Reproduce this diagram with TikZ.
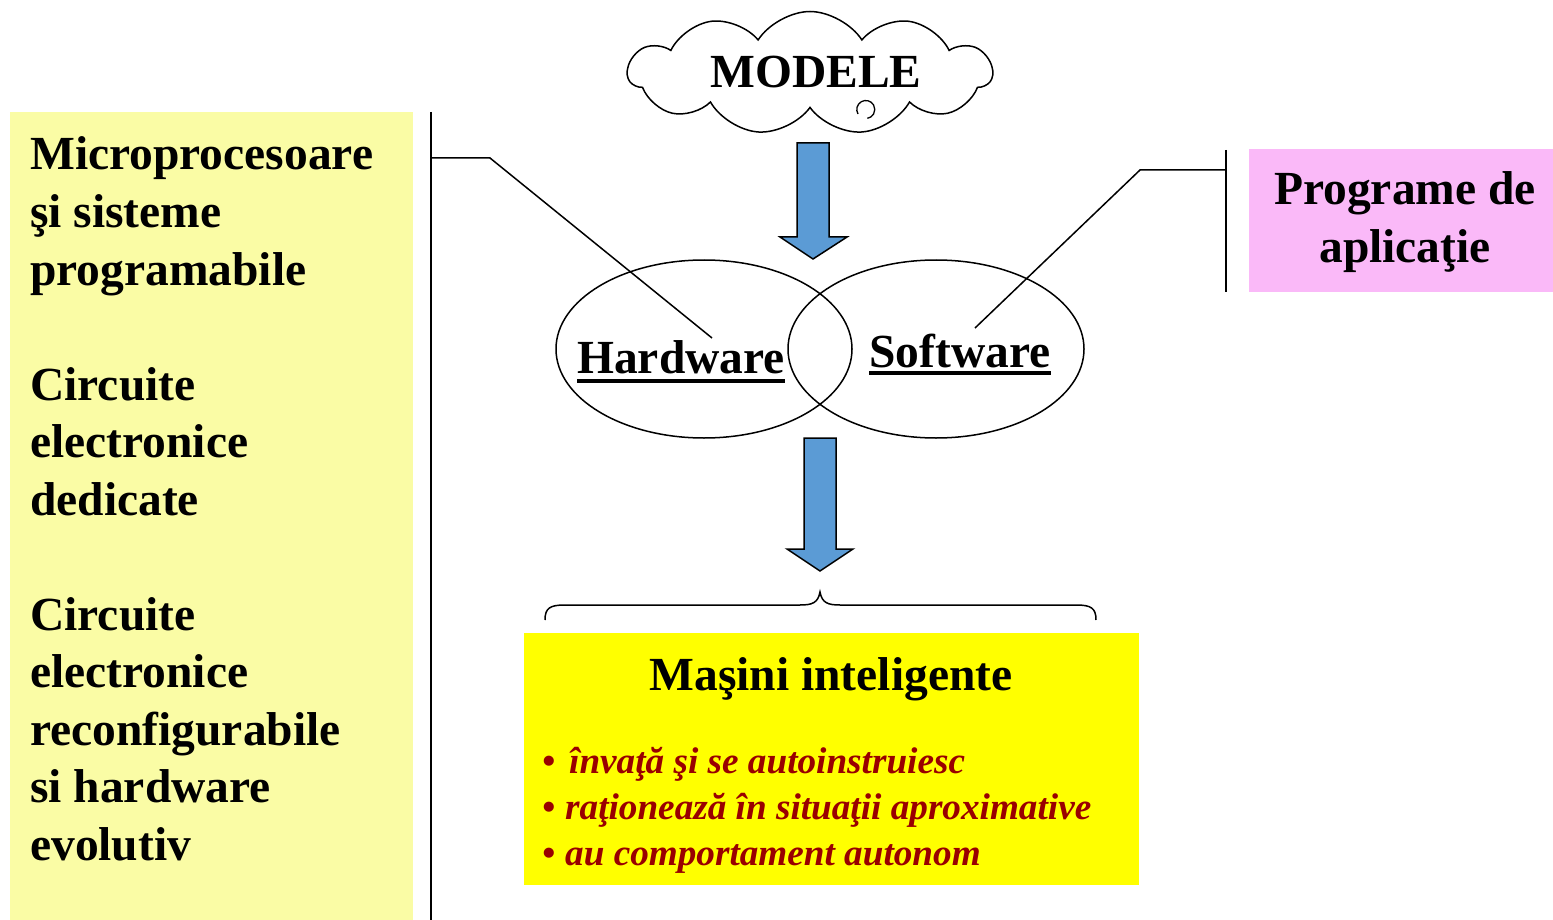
\documentclass[tikz,border=0pt]{standalone}
\usepackage{fontspec}
\setmainfont{Liberation Serif}
\usetikzlibrary{shapes.symbols,shapes.geometric}
\definecolor{paleyellow}{RGB}{250,252,165}
\definecolor{pinkbox}{RGB}{250,185,248}
\definecolor{arrowblue}{RGB}{91,155,213}
\definecolor{darkred}{RGB}{153,0,0}
\definecolor{brightyellow}{RGB}{255,255,0}
\begin{document}
\begin{tikzpicture}[x=1pt,y=-1pt,
  bigtext/.style={font=\fontsize{47.5}{57.5}\selectfont\bfseries, inner sep=0},
  bullettext/.style={font=\fontsize{37.2}{45}\selectfont\bfseries\itshape, text=darkred, inner sep=0},
  thinline/.style={line width=1.5pt},
  blockarrow/.style={fill=arrowblue, draw=black, line width=1.5pt, line join=miter},
  bubble/.style={draw=black, line width=1.5pt, ellipse, minimum width=296, minimum height=178, inner sep=0},
]
\useasboundingbox (0,0) rectangle (1553,920);
\fill[white] (0,0) rectangle (1553,920);

% left box
\fill[paleyellow] (10,112) rectangle (413,920);
\foreach \txt/\yy [count=\i] in {{Microprocesoare}/170, {şi sisteme}/227.5, {programabile}/285,
   {Circuite}/400, {electronice}/457.5, {dedicate}/515,
   {Circuite}/630, {electronice}/687.5, {reconfigurabile}/745, {si hardware}/802.5, {evolutiv}/860}
  \node[bigtext, anchor=base west] (left\i) at (30,\yy) {\txt};

% left vertical line
\coordinate (lvt) at (431,112);
\coordinate (lvb) at (431,920);
\draw[thinline] (lvt) -- (lvb);

% pink box
\fill[pinkbox] (1249,149) rectangle (1553,292);
\node[bigtext, anchor=base] (prog1) at (1405,205) {Programe de};
\node[bigtext, anchor=base] (prog2) at (1405,262) {aplicaţie};
\coordinate (rvt) at (1226,150);
\coordinate (rvb) at (1226,292);
\draw[thinline] (rvt) -- (rvb);

% cloud
\node[cloud, draw=black, line width=1.5pt, fill=white, cloud puffs=11, cloud puff arc=115,
      minimum width=364, minimum height=123, inner sep=0] (cloud) at (810,73) {};
\node[bigtext, anchor=base] (modele) at (816,88) {MODELE};
\draw[line width=1.3pt] (858,114) arc[start angle=150, end angle=440, radius=9];

% ellipses
\node[bubble] (hwell) at (704,349) {};
\node[bubble] (swell) at (936,349) {};
\node[bigtext, anchor=base west] (hw) at (577,373) {Hardware};
\node[bigtext, anchor=base west] (sw) at (869,367) {Software};
\draw[line width=3.5pt] ([yshift=-8pt]hw.base west) -- ([yshift=-8pt]hw.base east);
\draw[line width=3.5pt] ([yshift=-6pt]sw.base west) -- ([yshift=-6pt]sw.base east);

% connectors
\coordinate (hwstart) at (431,158);
\coordinate (hwbend) at (490,158);
\coordinate (hwend) at (712,338);
\draw[thinline] (hwstart) -- (hwbend) -- (hwend);
\coordinate (swstart) at (1226,170);
\coordinate (swbend) at (1140,170);
\coordinate (swend) at (975,328);
\draw[thinline] (swstart) -- (swbend) -- (swend);

% block arrows
\draw[blockarrow] (797,143) -- (829,143) -- (829,237) -- (847,237) -- (813,259) -- (780,237) -- (797,237) -- cycle;
\draw[blockarrow] (804,438) -- (836,438) -- (836,549) -- (853,549) -- (820,571) -- (787,549) -- (804,549) -- cycle;

% brace
\coordinate (bl) at (545,620);
\coordinate (bt) at (820,592);
\coordinate (br) at (1096,620);
\draw[thinline] (bl) .. controls (545,608) and (550,605) .. (565,605) -- (800,605)
   .. controls (812,605) and (818,603) .. (bt)
   .. controls (822,603) and (828,605) .. (840,605) -- (1076,605)
   .. controls (1091,605) and (1096,608) .. (br);

% yellow box
\fill[brightyellow] (524,633) rectangle (1139,885);
\node[bigtext, anchor=base] (masini) at (831,690) {Maşini inteligente};
\node[bullettext, anchor=base west] (b1) at (542,773) {•};
\node[bullettext, anchor=base west] (t1) at (569,773) {învaţă şi se autoinstruiesc};
\node[bullettext, anchor=base west] (b2) at (542,819) {•};
\node[bullettext, anchor=base west] (t2) at (565,819) {raţionează în situaţii aproximative};
\node[bullettext, anchor=base west] (b3) at (542,865) {•};
\node[bullettext, anchor=base west] (t3) at (565,865) {au comportament autonom};
\end{tikzpicture}
\end{document}
